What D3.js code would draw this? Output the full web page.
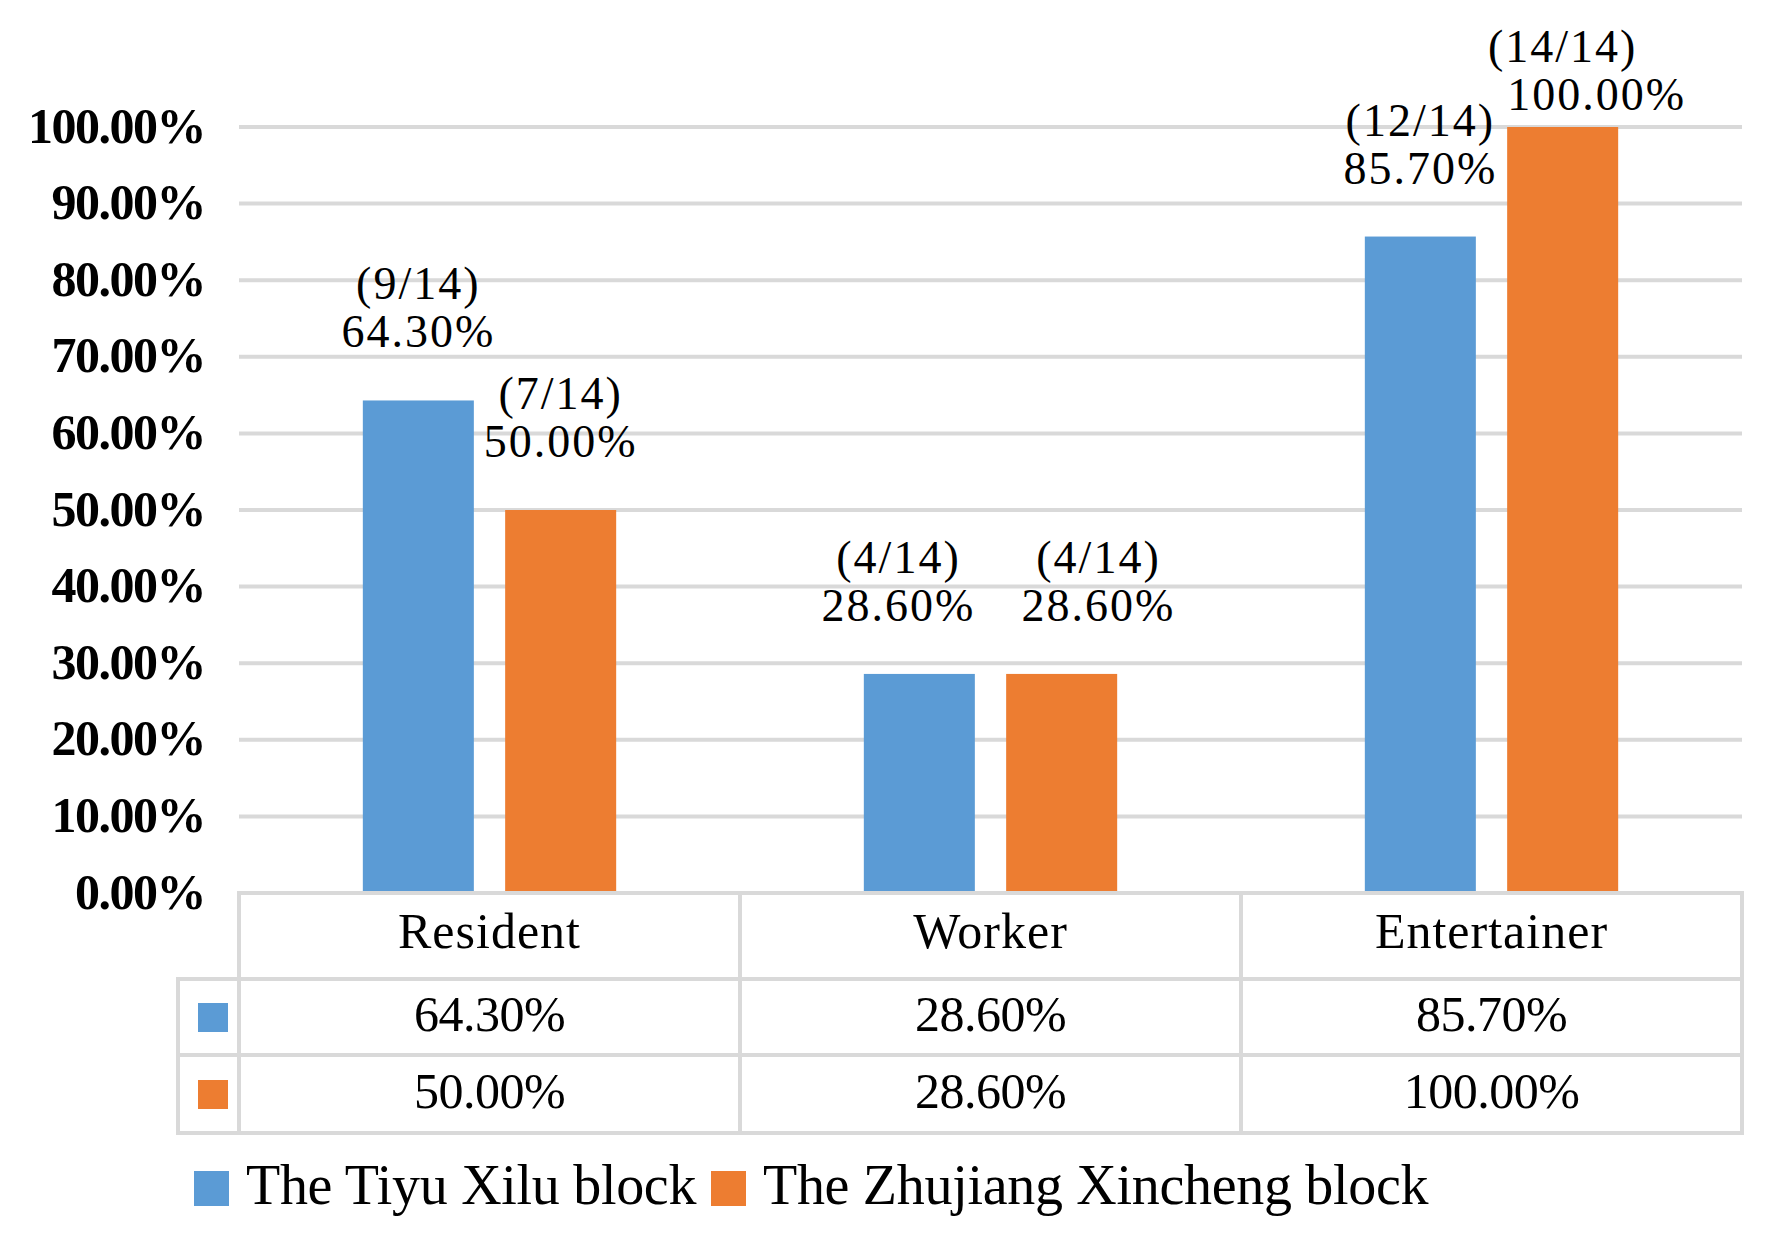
<!DOCTYPE html>
<html>
<head>
<meta charset="utf-8">
<script src="https://cdn.jsdelivr.net/npm/d3@7"></script>
<style>
  body { margin: 0; background: #fff; }
  svg { display: block; font-family: "Liberation Serif", "DejaVu Serif", serif; }
</style>
</head>
<body>
<div id="chart"></div>
<script>
// Data
const categories = ["Resident", "Worker", "Entertainer"];
const seriesNames = ["The Tiyu Xilu block", "The Zhujiang Xincheng block"];
const tiyuValues = [0.643, 0.286, 0.857];
const zhujiangValues = [0.500, 0.286, 1.000];
const tiyuCounts = ["(9/14)", "(4/14)", "(12/14)"];
const zhujiangCounts = ["(7/14)", "(4/14)", "(14/14)"];
const yTicks = [0, 0.1, 0.2, 0.3, 0.4, 0.5, 0.6, 0.7, 0.8, 0.9, 1.0];

const colors = ["#5b9bd5", "#ed7d31"];
const grid = "#d9d9d9";

// Layout
const width = 1773;
const height = 1244;
const plot = {left: 239, right: 1742, top: 127, bottom: 893};
const rowLeft = 178;
const rowY = [893, 979, 1055, 1133];

const svg = d3.select('#chart')
    .append('svg')
    .attr('width', width)
    .attr('height', height);

const fmt = d3.format(".2%");

const y = d3.scaleLinear().domain([0, 1]).range([plot.bottom, plot.top]);
const x0 = d3.scaleBand().domain(categories).range([plot.left, plot.right]);
const x1 = d3.scaleBand().domain(seriesNames)
    .range([0, x0.bandwidth()])
    .paddingInner(0.22)
    .paddingOuter(0.87);

const series = [
    {name: seriesNames[0], values: tiyuValues, counts: tiyuCounts, color: colors[0]},
    {name: seriesNames[1], values: zhujiangValues, counts: zhujiangCounts, color: colors[1]}
];
const bars = [];
series.forEach((s, si) => {
    categories.forEach((c, i) => {
        bars.push({cat: c, ci: i, si: si, name: s.name, value: s.values[i], count: s.counts[i], color: s.color});
    });
});

// Gridlines
svg.append('g')
    .selectAll('line')
    .data(yTicks.slice(1))
    .join('line')
    .attr('x1', plot.left)
    .attr('x2', plot.right)
    .attr('y1', d => y(d))
    .attr('y2', d => y(d))
    .attr('stroke', grid)
    .attr('stroke-width', 4);

// Y axis labels
const yAxis = svg.append('g')
    .attr('transform', `translate(${plot.left - 34},0)`)
    .call(d3.axisLeft(y).tickValues(yTicks).tickFormat(fmt).tickSize(0).tickPadding(0));
yAxis.select('.domain').remove();
yAxis.selectAll('text')
    .attr('font-family', '"Liberation Serif", serif')
    .attr('font-size', 50)
    .attr('font-weight', 'bold')
    .attr('letter-spacing', -1.5)
    .attr('fill', '#000')
    .attr('dy', '0.3em');

// Bars
svg.append('g')
    .selectAll('rect')
    .data(bars)
    .join('rect')
    .attr('x', d => x0(d.cat) + x1(d.name))
    .attr('y', d => y(d.value))
    .attr('width', x1.bandwidth())
    .attr('height', d => y(0) - y(d.value))
    .attr('fill', d => d.color);

// Label placement: above bar, kept inside the top, pushed apart when two collide
const labelW = 160;
bars.forEach(d => {
    d.cx = x0(d.cat) + x1(d.name) + x1.bandwidth() / 2;
    d.base = y(d.value) - 53;
    d.clamped = d.base < 110;
    if (d.clamped) d.base = 110;
    d.shift = 0;
});
categories.forEach((c, i) => {
    const a = bars.find(b => b.ci === i && b.si === 0);
    const b = bars.find(b => b.ci === i && b.si === 1);
    const gap = b.cx - a.cx;
    if (Math.abs(a.base - b.base) < 90 && gap < labelW + 40 && !a.clamped && !b.clamped) {
        const push = (labelW + 40 - gap) / 2;
        a.shift = -push + 8;
        b.shift = push + 8;
    }
});

svg.append('g')
    .selectAll('text')
    .data(bars)
    .join('text')
    .attr('text-anchor', 'middle')
    .attr('font-size', 46)
    .attr('letter-spacing', 2)
    .attr('fill', '#000')
    .each(function(d) {
        const t = d3.select(this);
        t.append('tspan').attr('x', d.cx + d.shift).attr('y', d.base - 48).text(d.count);
        t.append('tspan').attr('x', d.cx + d.shift + (d.clamped ? 34 : 0)).attr('y', d.base).text(fmt(d.value));
    });

// Data table
const table = svg.append('g');
const tableLines = [];
tableLines.push([plot.left, rowY[0], plot.right, rowY[0]]);
tableLines.push([rowLeft, rowY[1], plot.right, rowY[1]]);
tableLines.push([rowLeft, rowY[2], plot.right, rowY[2]]);
tableLines.push([rowLeft, rowY[3], plot.right, rowY[3]]);
tableLines.push([rowLeft, rowY[1], rowLeft, rowY[3]]);
categories.forEach(c => tableLines.push([x0(c), rowY[0], x0(c), rowY[3]]));
tableLines.push([plot.right, rowY[0], plot.right, rowY[3]]);

table.selectAll('line')
    .data(tableLines)
    .join('line')
    .attr('x1', d => d[0]).attr('y1', d => d[1])
    .attr('x2', d => d[2]).attr('y2', d => d[3])
    .attr('stroke', grid)
    .attr('stroke-width', 4)
    .attr('stroke-linecap', 'square');

// header row
table.selectAll('text.cat')
    .data(categories)
    .join('text')
    .attr('class', 'cat')
    .attr('x', d => x0(d) + x0.bandwidth() / 2)
    .attr('y', (rowY[0] + rowY[1]) / 2 + 12)
    .attr('text-anchor', 'middle')
    .attr('font-size', 50)
    .attr('letter-spacing', 1)
    .text(d => d);

// series rows
series.forEach((s, r) => {
    const top = rowY[r + 1];
    const bot = rowY[r + 2];
    const mid = (top + bot) / 2;
    table.append('rect')
        .attr('x', rowLeft + 20)
        .attr('y', mid - 14)
        .attr('width', 30)
        .attr('height', 29)
        .attr('fill', s.color);
    table.append('g')
        .selectAll('text')
        .data(s.values)
        .join('text')
        .attr('x', (d, i) => x0(categories[i]) + x0.bandwidth() / 2)
        .attr('y', mid + 14)
        .attr('text-anchor', 'middle')
        .attr('font-size', 50)
        .attr('letter-spacing', -0.5)
        .text(d => fmt(d));
});

// Legend
const legendX = [194, 711];
const legend = svg.append('g')
    .selectAll('g')
    .data(series)
    .join('g')
    .attr('transform', (d, i) => `translate(${legendX[i]},1171)`);
legend.append('rect')
    .attr('width', 35)
    .attr('height', 35)
    .attr('fill', d => d.color);
legend.append('text')
    .attr('x', 52)
    .attr('y', 33)
    .attr('font-size', 56)
    .attr('letter-spacing', -0.3)
    .text(d => d.name);
</script>
</body>
</html>
